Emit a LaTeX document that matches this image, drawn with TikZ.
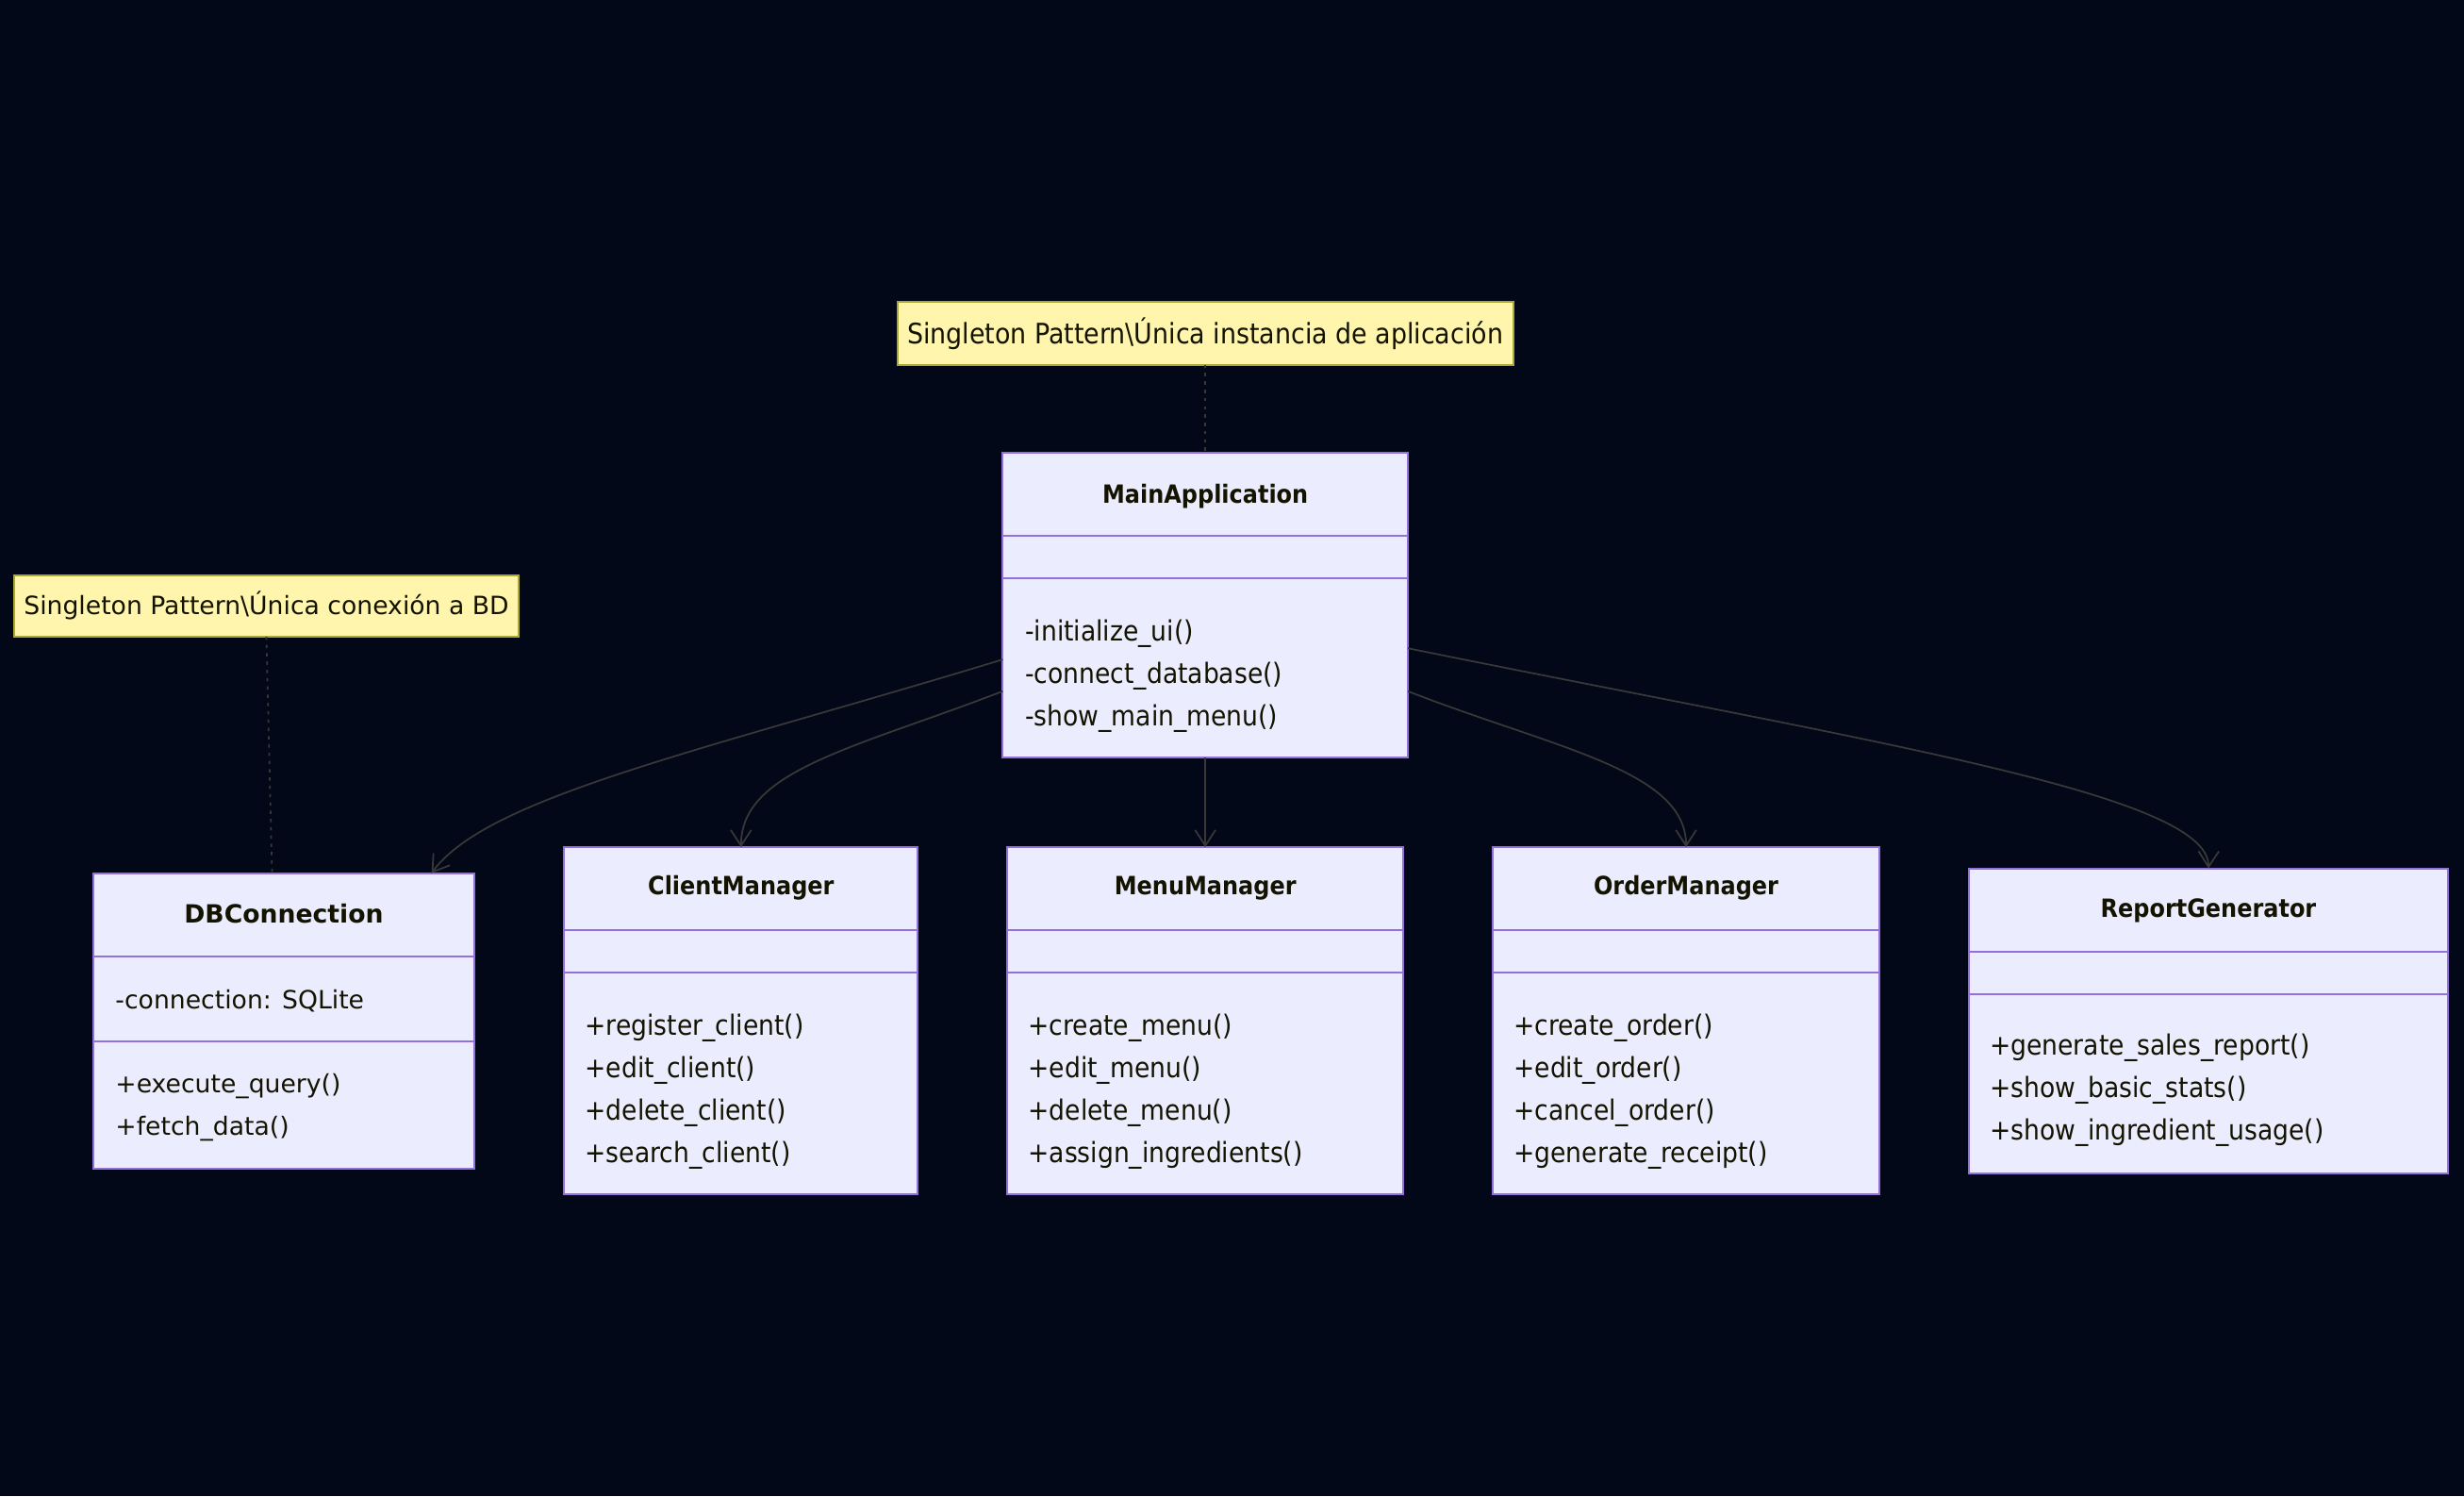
\documentclass[tikz,border=0pt]{standalone}
\usepackage{fontspec}
\setmainfont{DejaVu Sans}
\newfontfamily\condfont{DejaVu Sans Condensed}
\usepackage{xcolor}
\usetikzlibrary{positioning}
\usetikzlibrary{arrows.meta}
\definecolor{bg}{HTML}{020817}
\definecolor{clsfill}{HTML}{ECECFF}
\definecolor{clsline}{HTML}{9370DB}
\definecolor{notefill}{HTML}{FFF5AD}
\definecolor{noteline}{HTML}{AAAA33}
\definecolor{wire}{HTML}{383838}
\definecolor{ink}{HTML}{131300}
\begin{document}
\begin{tikzpicture}[x=0.02cm,y=-0.02cm,
  cls/.style={rectangle,draw=clsline,fill=clsfill,line width=0.7pt,inner sep=0pt,outer sep=0pt},
  note/.style={rectangle,draw=noteline,fill=notefill,line width=0.7pt,inner sep=0pt,outer sep=0pt,text=ink},
  ttl/.style={font=\condfont\bfseries\fontsize{9.1}{11}\selectfont,text=ink,inner sep=0pt},
  mem/.style={font=\condfont\fontsize{10.1}{15.36}\selectfont,align=left,anchor=west,inner sep=0pt,text=ink},
  div/.style={draw=clsline,line width=0.7pt},
  dep/.style={draw=wire,line width=0.6pt,-{Straight Barb[length=2mm,width=2.6mm,line width=0.6pt]}},
  tie/.style={draw=wire,line width=0.6pt,dash pattern=on 1.2pt off 1.8pt}]
  \fill[bg] (0,0) rectangle (1568,952);
  \useasboundingbox (0,0) rectangle (1568,952);

  \node[cls,minimum width=5.16cm,minimum height=3.88cm] (main) at (767,385) {};
  \node[cls,minimum width=5.04cm,minimum height=4.42cm] (menu) [below=1.14cm of main] {};
  \node[cls,minimum width=4.5cm,minimum height=4.42cm] (cli) [left=1.14cm of menu] {};
  \node[cls,minimum width=4.86cm,minimum height=3.76cm] (db) [left=1.14cm of cli] {};
  \node[cls,minimum width=4.92cm,minimum height=4.42cm] (ord) [right=1.14cm of menu] {};
  \node[cls,minimum width=6.1cm,minimum height=3.88cm] (rep) [right=1.14cm of ord] {};
  \node[note,minimum width=7.84cm,minimum height=0.8cm,font=\condfont\fontsize{10.2}{11}\selectfont] (n1) [above=1.12cm of main] {Singleton Pattern\textbackslash Única instancia de aplicación};
  \node[note,minimum width=6.42cm,minimum height=0.78cm,font=\fontsize{9.1}{11}\selectfont] (n2) at (169.5,385.5) {Singleton Pattern\textbackslash Única conexión a BD};

  \node[ttl] (mainT) at ([yshift=-0.56cm]main.north) {MainApplication};
  \draw[div] ([yshift=-1.06cm]main.north west) -- ([yshift=-1.06cm]main.north east);
  \draw[div] ([yshift=-1.6cm]main.north west) -- ([yshift=-1.6cm]main.north east);
  \node[mem] (mainM) at ([xshift=0.28cm,yshift=-2.84cm]main.north west) {-initialize\_ui()\\-connect\_database()\\-show\_main\_menu()};

  \node[ttl,font=\bfseries\fontsize{9.1}{11}\selectfont] (dbT) at ([yshift=-0.52cm]db.north) {DBConnection};
  \draw[div] ([yshift=-1.06cm]db.north west) -- ([yshift=-1.06cm]db.north east);
  \draw[div] ([yshift=-2.14cm]db.north west) -- ([yshift=-2.14cm]db.north east);
  \node[mem,font=\fontsize{9.1}{15.36}\selectfont] (dbA) at ([xshift=0.28cm,yshift=-1.62cm]db.north west) {-connection: SQLite};
  \node[mem,font=\fontsize{9.1}{15.36}\selectfont] (dbM) at ([xshift=0.28cm,yshift=-2.98cm]db.north west) {+execute\_query()\\+fetch\_data()};

  \node[ttl] (cliT) at ([yshift=-0.52cm]cli.north) {ClientManager};
  \draw[div] ([yshift=-1.06cm]cli.north west) -- ([yshift=-1.06cm]cli.north east);
  \draw[div] ([yshift=-1.6cm]cli.north west) -- ([yshift=-1.6cm]cli.north east);
  \node[mem] (cliM) at ([xshift=0.26cm,yshift=-3.11cm]cli.north west) {+register\_client()\\+edit\_client()\\+delete\_client()\\+search\_client()};

  \node[ttl] (menuT) at ([yshift=-0.52cm]menu.north) {MenuManager};
  \draw[div] ([yshift=-1.06cm]menu.north west) -- ([yshift=-1.06cm]menu.north east);
  \draw[div] ([yshift=-1.6cm]menu.north west) -- ([yshift=-1.6cm]menu.north east);
  \node[mem] (menuM) at ([xshift=0.26cm,yshift=-3.11cm]menu.north west) {+create\_menu()\\+edit\_menu()\\+delete\_menu()\\+assign\_ingredients()};

  \node[ttl] (ordT) at ([yshift=-0.52cm]ord.north) {OrderManager};
  \draw[div] ([yshift=-1.06cm]ord.north west) -- ([yshift=-1.06cm]ord.north east);
  \draw[div] ([yshift=-1.6cm]ord.north west) -- ([yshift=-1.6cm]ord.north east);
  \node[mem] (ordM) at ([xshift=0.26cm,yshift=-3.11cm]ord.north west) {+create\_order()\\+edit\_order()\\+cancel\_order()\\+generate\_receipt()};

  \node[ttl] (repT) at ([yshift=-0.54cm]rep.north) {ReportGenerator};
  \draw[div] ([yshift=-1.06cm]rep.north west) -- ([yshift=-1.06cm]rep.north east);
  \draw[div] ([yshift=-1.6cm]rep.north west) -- ([yshift=-1.6cm]rep.north east);
  \node[mem] (repM) at ([xshift=0.26cm,yshift=-2.82cm]rep.north west) {+generate\_sales\_report()\\+show\_basic\_stats()\\+show\_ingredient\_usage()};

  \draw[tie] (n1) -- (main);
  \draw[tie] (n2.south) -- ([xshift=-0.15cm]db.north);
  \draw[dep] (main.195.6) .. controls (446,478) and (310,507) .. (db.45);
  \draw[dep] (main.203.5) .. controls (544,476) and (471.5,490) .. (cli.north);
  \draw[dep] (main) -- (menu);
  \draw[dep] (main.337.3) .. controls (989,476) and (1073,490) .. (ord.north);
  \draw[dep] (main.348.6) .. controls (1190,472) and (1406,505) .. (rep.north);
\end{tikzpicture}
\end{document}
